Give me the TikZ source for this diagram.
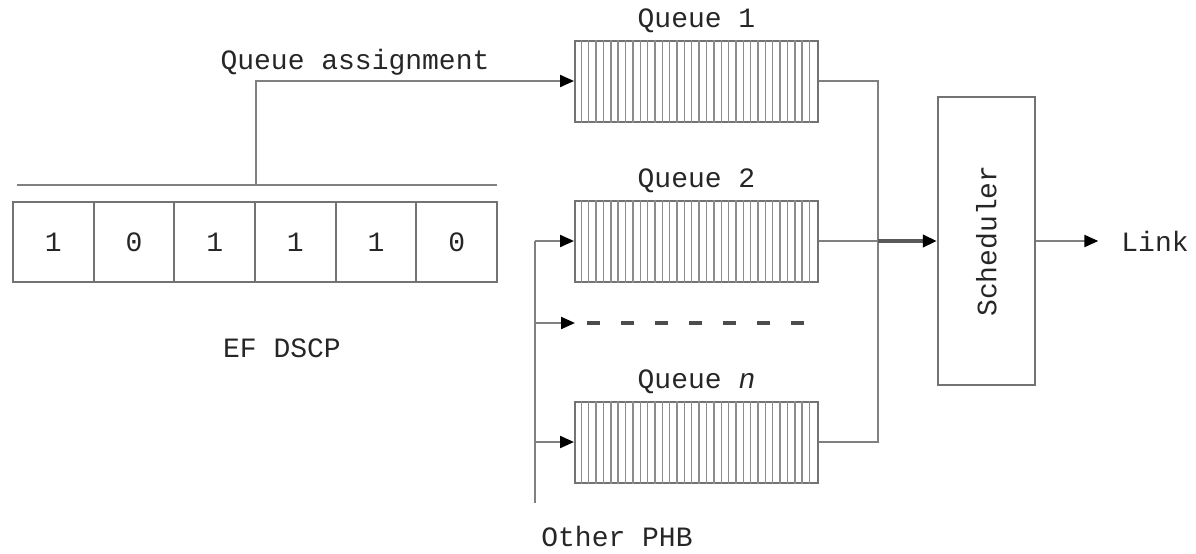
\documentclass[tikz,border=0pt]{standalone}
\usepackage{fontspec}
\setmainfont{Liberation Mono}
\usetikzlibrary{calc, arrows.meta, positioning}
\begin{document}
\begin{tikzpicture}[x=.5pt, y=-.5pt,
    every node/.style={font=\fontsize{14}{16}\selectfont, text=black!85},
    wire/.style={draw=black!50, line width=1.1pt},
    tip/.style={-{Triangle[length=7pt, width=6pt, fill=black, color=black]}},
    cell/.style={draw=black!55, line width=1.1pt, minimum width=40.33pt, minimum height=40pt, inner sep=0pt},
    queue/.style={draw=black!55, line width=1pt, minimum width=121.5pt, minimum height=40.5pt, inner sep=0pt},
    hatch/.style={draw=black!45, line width=.7pt}]
  \useasboundingbox (0,0) rectangle (1196,553);
  \def\bits{1, 0, 1, 1, 1, 0}
  \foreach \b [count = \i] in \bits{
    \node[cell] (b\i) at (13 + 80.67*\i - 40.33, 242) {\b};
  }
  \node at (282,348) {EF DSCP};
  \draw[wire] (17,185) -- (497,185);
  \coordinate (tap) at (256,185);
  \node[queue] (q1) at (696.5,81) {};
  \node[queue] (q2) at (696.5,241) {};
  \node[queue] (qn) at (696.5,442) {};
  \foreach \q/\name in {q1/Queue 1, q2/Queue 2, qn/Queue \textit{n}}{
    \node[above=0pt of \q] {\name};
    \foreach \k in {1,...,32}
      \draw[hatch] ($(\q.north west) + (\k*7.36,0)$) -- ($(\q.south west) + (\k*7.36,0)$);
  }
  \node at (355,62) {Queue assignment};
  \draw[wire, tip] (tap) |- (q1.west);
  % other PHB feed
  \coordinate (bus) at (535,241);
  \coordinate (busend) at (535,503);
  \coordinate (dots) at (575,323);
  \node (phb) at (617,536) {Other PHB};
  \draw[wire] (bus) -- (busend);
  \draw[wire, tip] (bus) -- (q2.west);
  \draw[wire, tip] (bus |- dots) -- (dots);
  \draw[wire, tip] (bus |- qn) -- (qn.west);
  \draw[black!70, line width=1.6pt, dash pattern=on 6.5pt off 10.5pt] (587,323) -- (810,323);
  % scheduler
  \node[draw=black!55, line width=1.1pt, minimum width=48.5pt, minimum height=144pt] (sched) at (986.5,241) {\rotatebox{90}{Scheduler}};
  \node (link) at (1155,241) {Link};
  \coordinate (join) at (878,241);
  \draw[wire] (q1.east) -| (join);
  \draw[wire] (qn.east) -| (join);
  \draw[wire] (q2.east) -- (join);
  \draw[wire, line width=1.7pt, draw=black!65, tip] (join) -- (sched.west);
  \draw[wire, tip] (sched.east) -- ([xshift=-8pt]link.west);
\end{tikzpicture}
\end{document}
